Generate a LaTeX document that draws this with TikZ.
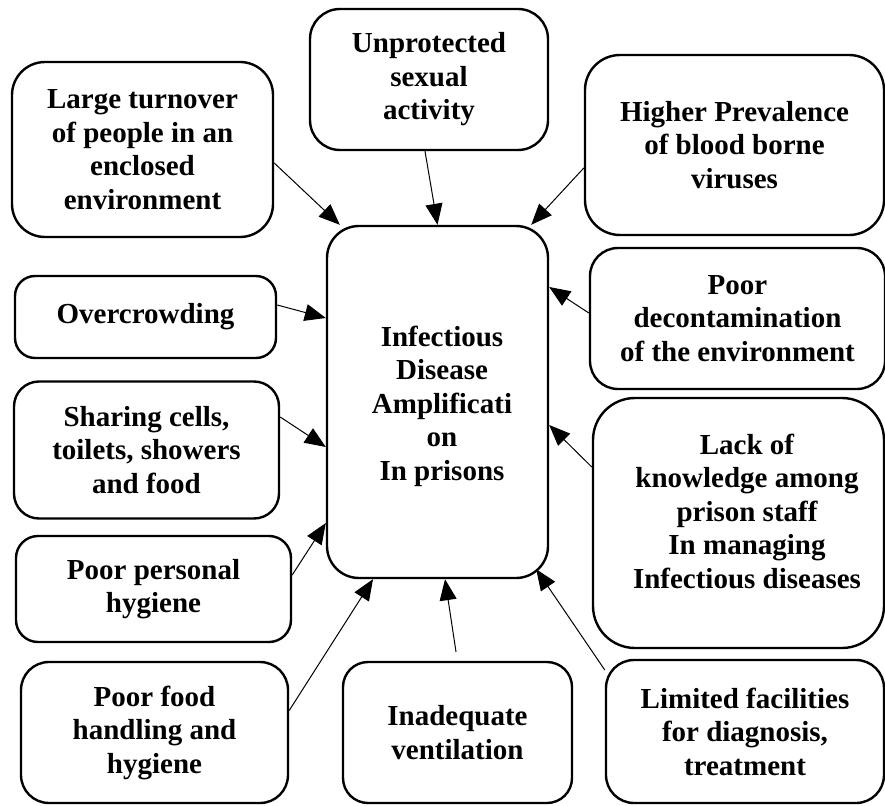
\documentclass[tikz,border=0pt]{standalone}
\usepackage{fontspec}
\setmainfont{Liberation Serif}
\usetikzlibrary{arrows.meta}
\begin{document}
\begin{tikzpicture}[x=1pt,y=-1pt,
  txt/.style={align=center, inner sep=0pt, font=\bfseries\fontsize{29}{33.5}\selectfont},
  box/.style={txt, draw, line width=2.4pt, rounded corners=#1},
  box/.default=25pt,
  arr/.style={line width=1pt, -{Triangle[length=21pt,width=17pt]}}]
\useasboundingbox (0,0) rectangle (885,805);

\node[box=32pt, minimum width=221pt, minimum height=352pt] (mid) at (437.5,402) {};
\node[txt] (midt) at (442,406)
  {Infectious\\Disease\\Amplificati\\on\\In prisons};

\node[box=33pt, minimum width=261pt, minimum height=175pt] (lt) at (142.5,149.5)
  {Large turnover\\of people in an\\enclosed\\environment};
\node[box=30pt, minimum width=238pt, minimum height=141pt] (un) at (429,79.5)
  {Unprotected\\sexual\\activity};
\node[box=35pt, minimum width=299pt, minimum height=180pt] (hp) at (734.5,145)
  {Higher Prevalence\\of blood borne\\viruses};
\node[box=20pt, minimum width=261pt, minimum height=82pt] (oc) at (145.5,317)
  {Overcrowding};
\node[box=28pt, minimum width=295pt, minimum height=141pt] (pd) at (737.5,318.5)
  {Poor\\decontamination\\of the environment};
\node[box=25pt, minimum width=265pt, minimum height=137pt] (sh) at (146.5,450)
  {Sharing cells,\\toilets, showers\\and food};
\node[box=42pt, minimum width=291pt, minimum height=250pt] (lk) at (738.5,523) {};
\node[txt] (lkt) at (747,511)
  {Lack of\\knowledge among\\prison staff\\In managing\\Infectious diseases};
\node[box=22pt, minimum width=275pt, minimum height=106pt] (pp) at (153.5,589)
  {Poor personal\\hygiene};
\node[box=28pt, minimum width=267pt, minimum height=141pt] (pf) at (154.5,732.5)
  {Poor food\\handling and\\hygiene};
\node[box=25pt, minimum width=229pt, minimum height=141pt] (iv) at (457.5,732.5)
  {Inadequate\\ventilation};
\node[box=28pt, minimum width=278pt, minimum height=143pt] (lf) at (745,731.5)
  {Limited facilities\\for diagnosis,\\treatment};

\draw[arr] ([yshift=-13.5pt]lt.east) -- ([xshift=14pt]mid.north west);
\draw[arr] ([xshift=-4pt]un.south) -- (mid.north);
\draw[arr] ([yshift=-23pt]hp.west) -- ([xshift=-18pt]mid.north east);
\draw[arr] ([yshift=12pt]oc.east) -- ([yshift=84pt]mid.west);
\draw[arr] ([yshift=5.5pt]pd.west) -- ([yshift=115pt]mid.east);
\draw[arr] ([yshift=33pt]sh.east) -- ([yshift=-45pt]mid.west);
\draw[arr] ([yshift=56pt]lk.west) -- ([yshift=-23pt]mid.east);
\draw[arr] ([yshift=14pt]pp.east) -- ([yshift=-121pt]mid.west);
\draw[arr] ([yshift=22pt]pf.east) -- ([xshift=-64.5pt]mid.south);
\draw[arr] ([xshift=-1.5pt,yshift=9pt]iv.north) -- ([xshift=7.5pt]mid.south);
\draw[arr] ([yshift=61.5pt]lf.west) -- ([xshift=-13pt,yshift=10pt]mid.south east);
\end{tikzpicture}
\end{document}
